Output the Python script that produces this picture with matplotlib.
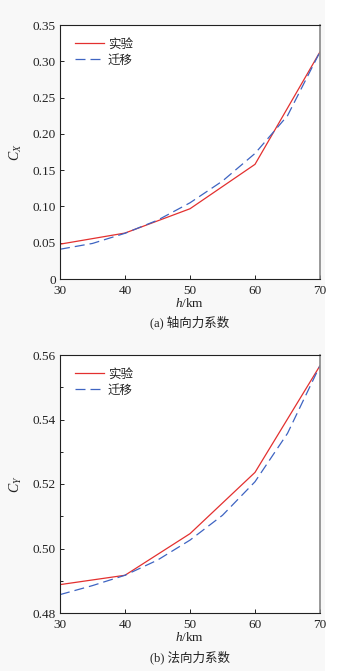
import matplotlib.pyplot as plt
from matplotlib.patches import Rectangle
from matplotlib.ticker import MultipleLocator

FONT = ["Liberation Serif", "Noto Sans CJK SC", "DejaVu Sans"]
plt.rcParams["font.family"] = FONT
plt.rcParams["mathtext.fontset"] = "custom"
plt.rcParams["mathtext.it"] = "Liberation Serif:italic"
plt.rcParams["mathtext.rm"] = "Liberation Serif"

RED = "#e3302f"
BLUE = "#3e64c2"
INK = "#222222"

# (a) axial force coefficient
h_exp = [30, 40, 50, 60, 70]
cx_exp = [0.048, 0.0633, 0.0968, 0.158, 0.313]
h_tr = [30, 35, 40, 45, 50, 55, 60, 65, 70]
cx_tr = [0.041, 0.049, 0.063, 0.081, 0.105, 0.135, 0.173, 0.225, 0.313]

# (b) normal force coefficient
cy_exp = [0.4888, 0.4917, 0.5046, 0.5236, 0.5567]
cy_tr = [0.4857, 0.4885, 0.4917, 0.4964, 0.5026, 0.5103, 0.5207, 0.5357, 0.5567]

fig = plt.figure(figsize=(3.61, 6.71), dpi=100)
fig.patch.set_facecolor("white")
fig.patches.append(Rectangle((0, 0), 325 / 361, 1, transform=fig.transFigure,
                             facecolor="#f8f8f8", edgecolor="none", zorder=-5))

ax1 = fig.add_axes([60 / 361, 1 - 279 / 671, 260 / 361, 254 / 671])
ax2 = fig.add_axes([60 / 361, 1 - 613 / 671, 260 / 361, 258 / 671])

panels = [
    (ax1, cx_exp, cx_tr, (0, 0.35), 0.05, None, "$C_X$", "(a) 轴向力系数",
     lambda v: "0" if v == 0 else f"{v:.2f}"),
    (ax2, cy_exp, cy_tr, (0.48, 0.56), 0.02, 0.01, "$C_Y$", "(b) 法向力系数",
     lambda v: f"{v:.2f}"),
]

for ax, exp, tr, ylim, major, minor, ylabel, caption, fmt in panels:
    ax.set_facecolor("white")
    ax.plot(h_exp, exp, color=RED, lw=0.9, label="实验")
    ax.plot(h_tr, tr, color=BLUE, lw=0.9, ls=(0, (8, 4)), label="迁移")
    ax.set_xlim(30, 70)
    ax.set_ylim(*ylim)
    ax.xaxis.set_major_locator(MultipleLocator(10))
    ax.yaxis.set_major_locator(MultipleLocator(major))
    if minor:
        ax.yaxis.set_minor_locator(MultipleLocator(minor))
    ticks = ax.get_yticks()
    ticks = [t for t in ticks if ylim[0] - 1e-9 <= t <= ylim[1] + 1e-9]
    ax.set_yticks(ticks)
    ax.set_yticklabels([fmt(round(t, 2)) for t in ticks])
    ax.tick_params(direction="in", length=3, width=0.7, labelsize=9.5,
                   colors=INK, pad=3, which="both")
    ax.tick_params(axis="x", pad=4)
    ax.tick_params(which="minor", length=2)
    for s in ax.spines.values():
        s.set_color(INK)
        s.set_linewidth(0.8)
    ax.spines["right"].set_color("#888888")
    ax.spines["right"].set_linewidth(1.2)
    ax.set_ylabel(ylabel, fontsize=10, color=INK, labelpad=6)
    ax.set_xlabel("$h$/km", fontsize=9.5, color=INK, labelpad=0)
    ax.text(0.5, -44 / 256, caption, transform=ax.transAxes, ha="center",
            va="center", fontsize=9, color=INK, family=FONT)
    leg = ax.legend(loc="upper left", frameon=False, fontsize=9,
                    handlelength=2.3, handletextpad=0.3, labelspacing=0.3,
                    borderaxespad=0.5, bbox_to_anchor=(0.015, 0.99))
    for t in leg.get_texts():
        t.set_color(INK)

fig.savefig("out.png", dpi=100, facecolor=fig.get_facecolor())
